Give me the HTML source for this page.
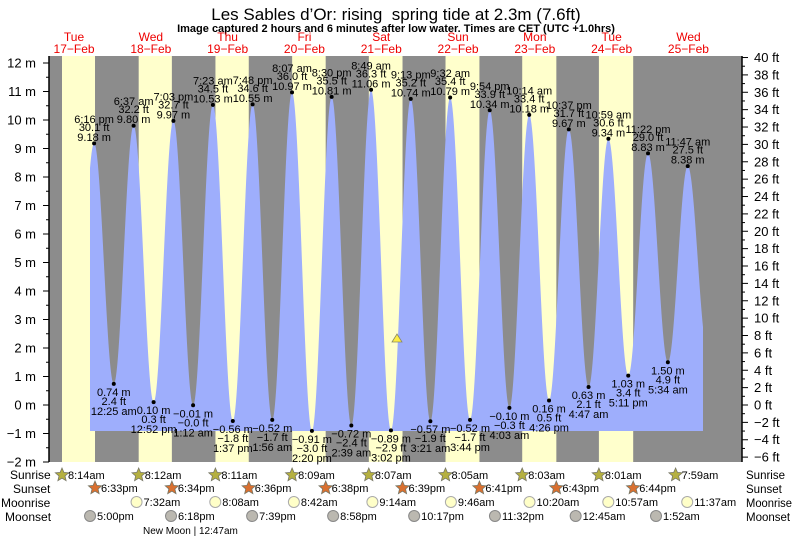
<!DOCTYPE html>
<html><head><meta charset="utf-8"><style>
html,body{margin:0;padding:0;background:#fff;width:793px;height:537px;overflow:hidden}
svg{display:block;font-family:"Liberation Sans",Arial,sans-serif}
</style></head><body>
<svg id="s" width="793" height="537" xmlns="http://www.w3.org/2000/svg">
<text x="396" y="20" font-size="17" text-anchor="middle">Les Sables d’Or: rising&#160; spring tide at 2.3m (7.6ft)</text>
<text x="396" y="32" font-size="11" font-weight="bold" text-anchor="middle">Image captured 2 hours and 6 minutes after low water. Times are CET (UTC +1.0hrs)</text>
<text x="10" y="479" font-size="12">Sunrise</text>
<text x="13" y="493" font-size="12">Sunset</text>
<text x="1" y="507" font-size="12">Moonrise</text>
<text x="5" y="521" font-size="12">Moonset</text>
<text x="746" y="479" font-size="11.5">Sunrise</text>
<text x="746" y="493" font-size="11.5">Sunset</text>
<text x="746" y="507" font-size="11.5" textLength="46" lengthAdjust="spacingAndGlyphs">Moonrise</text>
<text x="746" y="521" font-size="11.5">Moonset</text>
<text x="143" y="534" font-size="10">New Moon | 12:47am</text>
</svg>
<script>
var S=document.getElementById('s'),NS='http://www.w3.org/2000/svg';
function el(t,a,txt){var e=document.createElementNS(NS,t);for(var k in a)e.setAttribute(k,a[k]);if(txt!=null)e.textContent=txt;S.appendChild(e);return e;}
function X(d,h,m){return 35.65+76.8*((d-17)+(h+m/60)/24);}
function Y(v){return 405-28.5*v;}
el('rect',{x:49,y:56,width:693,height:406,fill:'#8c8c8c'});
var sr=[[17,8,14],[18,8,12],[19,8,11],[20,8,9],[21,8,7],[22,8,5],[23,8,3],[24,8,1],[25,7,59]];
var ss=[[17,18,33],[18,18,34],[19,18,36],[20,18,38],[21,18,39],[22,18,41],[23,18,43],[24,18,44]];
for(var i=0;i<8;i++){var a=X.apply(null,sr[i]),b=X.apply(null,ss[i]);el('rect',{x:a,y:56,width:b-a,height:406,fill:'#ffffcc'});}
var E=[
['H',17,18,16,9.18,'6:16 pm','30.1 ft'],['L',18,0,25,0.74,'12:25 am','2.4 ft'],
['H',18,6,37,9.80,'6:37 am','32.2 ft'],['L',18,12,52,0.10,'12:52 pm','0.3 ft'],
['H',18,19,3,9.97,'7:03 pm','32.7 ft'],['L',19,1,12,-0.01,'1:12 am','−0.0 ft'],
['H',19,7,23,10.53,'7:23 am','34.5 ft'],['L',19,13,37,-0.56,'1:37 pm','−1.8 ft'],
['H',19,19,48,10.55,'7:48 pm','34.6 ft'],['L',20,1,56,-0.52,'1:56 am','−1.7 ft'],
['H',20,8,7,10.97,'8:07 am','36.0 ft'],['L',20,14,20,-0.91,'2:20 pm','−3.0 ft'],
['H',20,20,30,10.81,'8:30 pm','35.5 ft'],['L',21,2,39,-0.72,'2:39 am','−2.4 ft'],
['H',21,8,49,11.06,'8:49 am','36.3 ft'],['L',21,15,2,-0.89,'3:02 pm','−2.9 ft'],
['H',21,21,13,10.74,'9:13 pm','35.2 ft'],['L',22,3,21,-0.57,'3:21 am','−1.9 ft'],
['H',22,9,32,10.79,'9:32 am','35.4 ft'],['L',22,15,44,-0.52,'3:44 pm','−1.7 ft'],
['H',22,21,54,10.34,'9:54 pm','33.9 ft'],['L',23,4,3,-0.10,'4:03 am','−0.3 ft'],
['H',23,10,14,10.18,'10:14 am','33.4 ft'],['L',23,16,26,0.16,'4:26 pm','0.5 ft'],
['H',23,22,37,9.67,'10:37 pm','31.7 ft'],['L',24,4,47,0.63,'4:47 am','2.1 ft'],
['H',24,10,59,9.34,'10:59 am','30.6 ft'],['L',24,17,11,1.03,'5:11 pm','3.4 ft'],
['H',24,23,22,8.83,'11:22 pm','29.0 ft'],['L',25,5,34,1.50,'5:34 am','4.9 ft'],
['H',25,11,47,8.38,'11:47 am','27.5 ft']];
var P=[[X(17,12,0),0.5]];E.forEach(function(e){P.push([X(e[1],e[2],e[3]),e[4]]);});P.push([X(25,18,0),1.9]);
var x0=90,x1=703,pts=[];
for(var x=x0;x<=x1;x+=0.5){var j=0;while(j<P.length-2&&P[j+1][0]<x)j++;var a=P[j],b=P[j+1];var f=(x-a[0])/(b[0]-a[0]);var v=(a[1]+b[1])/2+(a[1]-b[1])/2*Math.cos(Math.PI*f);var y=Math.min(Y(v),431);pts.push(x.toFixed(1)+','+y.toFixed(1));}
el('polygon',{points:pts.join(' ')+' '+x1+',431 '+x0+',431',fill:'#9eaefc'});
el('line',{x1:49,y1:56,x2:49,y2:462,stroke:'#000','stroke-width':1.5});
el('line',{x1:742,y1:56,x2:742,y2:462,stroke:'#000','stroke-width':1.5});
for(var m=-2;m<=12;m++){var y=Y(m);el('line',{x1:43,y1:y,x2:49,y2:y,stroke:'#000'});el('text',{x:36,y:y+4.5,'font-size':13,'text-anchor':'end'},(m<0?'−'+(-m):m)+' m');
 if(m<12){var y2=Y(m+0.5);el('line',{x1:46,y1:y2,x2:49,y2:y2,stroke:'#000'});}}
for(var ft=-6;ft<=40;ft++){var y=405-28.5*ft*0.3048;if(ft%2==0){el('line',{x1:742,y1:y,x2:748,y2:y,stroke:'#000'});el('text',{x:754,y:y+4.5,'font-size':13},(ft<0?'−'+(-ft):ft)+' ft');}else el('line',{x1:742,y1:y,x2:745,y2:y,stroke:'#000'});}
var dn=['Tue','Wed','Thu','Fri','Sat','Sun','Mon','Tue','Wed'];
for(var d=0;d<9;d++){var cx=X(17+d,12,0);el('text',{x:cx,y:41,'font-size':12,fill:'#e00','text-anchor':'middle'},dn[d]);el('text',{x:cx,y:53,'font-size':12,fill:'#e00','text-anchor':'middle'},(17+d)+'−Feb');}
E.forEach(function(e){var x=X(e[1],e[2],e[3]),y=Y(e[4]);el('circle',{cx:x,cy:y,r:2,fill:'#000'});
 var ms=(e[4]<0?'−'+(-e[4]).toFixed(2):e[4].toFixed(2))+' m';
 if(e[0]=='H'){el('text',{x:x,y:y-20.5,'font-size':11,'text-anchor':'middle'},e[5]);el('text',{x:x,y:y-12.5,'font-size':11,'text-anchor':'middle'},e[6]);el('text',{x:x,y:y-2.5,'font-size':11,'text-anchor':'middle'},ms);}
 else{el('text',{x:x,y:y+12,'font-size':11,'text-anchor':'middle'},ms);el('text',{x:x,y:y+21,'font-size':11,'text-anchor':'middle'},e[6]);el('text',{x:x,y:y+31,'font-size':11,'text-anchor':'middle'},e[5]);}});
el('polygon',{points:'397,334 392,342 402,342',fill:'#ffee44',stroke:'#886','stroke-width':0.8});
function star(cx,cy,col){var p=[];for(var k=0;k<10;k++){var r=k%2?3.2:7,a=-Math.PI/2+k*Math.PI/5;p.push((cx+r*Math.cos(a)).toFixed(1)+','+(cy+r*Math.sin(a)).toFixed(1));}el('polygon',{points:p.join(' '),fill:col,stroke:'#776','stroke-width':0.8});}
function fmt(h,m){var ap=h<12?'am':'pm';var hh=h%12;if(hh==0)hh=12;return hh+':'+(m<10?'0':'')+m+ap;}
sr.forEach(function(s){var x=X(s[0],s[1],s[2]);star(x,475,'#b5b040');el('text',{x:x+6,y:479,'font-size':11},fmt(s[1],s[2]));});
ss.forEach(function(s){var x=X(s[0],s[1],s[2]);star(x,488,'#d97030');el('text',{x:x+6,y:492,'font-size':11},fmt(s[1],s[2]));});
[[18,7,32],[19,8,8],[20,8,42],[21,9,14],[22,9,46],[23,10,20],[24,10,57],[25,11,37]].forEach(function(s){var x=X(s[0],s[1],s[2]);el('circle',{cx:x,cy:502,r:5.5,fill:'#ffffc8',stroke:'#aaa'});el('text',{x:x+7,y:506,'font-size':11},fmt(s[1],s[2]));});
[[17,17,0],[18,18,18],[19,19,39],[20,20,58],[21,22,17],[22,23,32],[24,0,45],[25,1,52]].forEach(function(s){var x=X(s[0],s[1],s[2]);el('circle',{cx:x,cy:516,r:5.5,fill:'#bbb8b0',stroke:'#888'});el('text',{x:x+7,y:520,'font-size':11},fmt(s[1],s[2]));});
</script>
</body></html>
